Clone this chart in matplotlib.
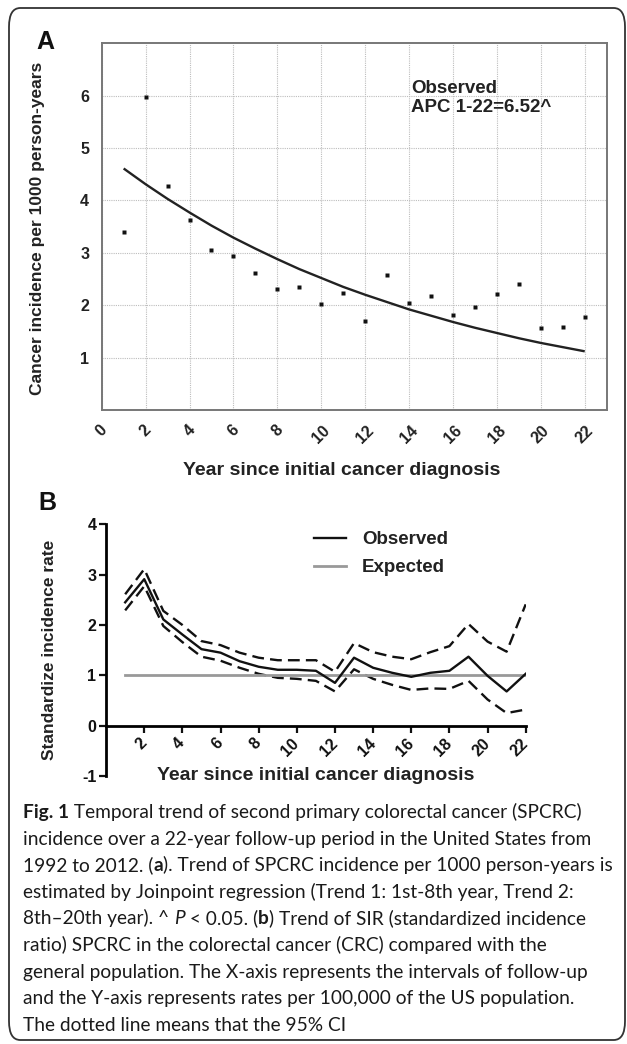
import matplotlib
matplotlib.use("Agg")
import matplotlib.pyplot as plt
from matplotlib.patches import FancyBboxPatch
from matplotlib.lines import Line2D

W, H, DPI = 627, 1044, 100

# ---------------- data ----------------
years_a = list(range(1, 23))
incidence_obs = [3.39, 5.98, 4.27, 3.62, 3.05, 2.94, 2.61, 2.31, 2.34, 2.02, 2.24,
                 1.70, 2.57, 2.04, 2.18, 1.81, 1.97, 2.21, 2.40, 1.56, 1.58, 1.77]
incidence_fit = [4.61, 4.31, 4.03, 3.77, 3.52, 3.29, 3.08, 2.88, 2.69, 2.52, 2.35,
                 2.20, 2.06, 1.92, 1.80, 1.68, 1.57, 1.47, 1.37, 1.28, 1.20, 1.12]
xticks_a = list(range(0, 23, 2))
yticks_a = [1, 2, 3, 4, 5, 6]

years_b = list(range(1, 23))
sir_obs = [2.45, 2.91, 2.11, 1.81, 1.52, 1.45, 1.28, 1.17, 1.11, 1.11, 1.09,
           0.85, 1.35, 1.15, 1.05, 0.97, 1.05, 1.09, 1.37, 0.99, 0.68, 1.03]
sir_upper = [2.61, 3.11, 2.28, 2.00, 1.68, 1.60, 1.45, 1.35, 1.30, 1.30, 1.30,
             1.07, 1.64, 1.46, 1.37, 1.32, 1.46, 1.58, 2.02, 1.67, 1.47, 2.41]
sir_lower = [2.29, 2.77, 1.98, 1.66, 1.37, 1.29, 1.15, 1.03, 0.95, 0.93, 0.89,
             0.68, 1.12, 0.93, 0.81, 0.71, 0.74, 0.73, 0.89, 0.52, 0.25, 0.32]
expected_level = [1.0] * 22
xticks_b = list(range(2, 23, 2))
yticks_b = [-1, 0, 1, 2, 3, 4]

caption_lines = [
    [("Fig. 1", "b"), (" Temporal trend of second primary colorectal cancer (SPCRC)", "n")],
    [("incidence over a 22-year follow-up period in the United States from", "n")],
    [("1992 to 2012. (", "n"), ("a", "b"), ("). Trend of SPCRC incidence per 1000 person-years is", "n")],
    [("estimated by Joinpoint regression (Trend 1: 1st-8th year, Trend 2:", "n")],
    [("8th\u201320th year). ^ ", "n"), ("P", "i"), (" < 0.05. (", "n"), ("b", "b"),
     (") Trend of SIR (standardized incidence", "n")],
    [("ratio) SPCRC in the colorectal cancer (CRC) compared with the", "n")],
    [("general population. The X-axis represents the intervals of follow-up", "n")],
    [("and the Y-axis represents rates per 100,000 of the US population.", "n")],
    [("The dotted line means that the 95% CI", "n")],
]

# ---------------- figure ----------------
SANS = ["Liberation Sans", "DejaVu Sans"]
plt.rcParams["font.family"] = SANS

fig = plt.figure(figsize=(W / DPI, H / DPI), dpi=DPI)


def fx(px):
    return px / W


def fy(py):
    return 1 - py / H


# outer rounded frame
frame = FancyBboxPatch((fx(9), fy(1040)), fx(625) - fx(9), fy(8) - fy(1040),
                       boxstyle="round,pad=0,rounding_size=0.018",
                       transform=fig.transFigure, fill=False,
                       edgecolor="#333333", linewidth=1.3, clip_on=False)
fig.patches.append(frame)

# ---------------- panel A ----------------
A_L, A_R, A_T, A_B = 101.7, 606.7, 43.3, 410
axA = fig.add_axes([fx(A_L), fy(A_B), fx(A_R) - fx(A_L), fy(A_T) - fy(A_B)])
axA.set_xlim(0, 23)
axA.set_ylim(0, 7)
axA.plot(years_a, incidence_fit, color="#222222", lw=1.7, solid_capstyle="butt")
axA.plot(years_a, incidence_obs, ls="none", marker="s", ms=2.6, color="#111111", mec="none")
axA.set_xticks(xticks_a)
axA.set_yticks(yticks_a)
axA.set_xticklabels([str(v) for v in xticks_a], rotation=45, ha="center",
                    fontsize=11.5, fontweight="bold", color="#222222")
axA.set_yticklabels([str(v) for v in yticks_a], fontsize=11.5, fontweight="bold",
                    color="#222222")
axA.tick_params(axis="both", length=0)
axA.tick_params(axis="y", pad=9)
axA.tick_params(axis="x", pad=9)
axA.grid(True, color="#bdbdbd", ls=(0, (1, 1)), lw=0.8)
axA.set_axisbelow(True)
for s in axA.spines.values():
    s.set_color("#777777")
    s.set_linewidth(1.4)
axA.set_ylabel("Cancer incidence per 1000 person-years", fontsize=12.5,
               fontweight="bold", color="#222222")
axA.yaxis.set_label_coords((45 - A_L) / (A_R - A_L), 0.495)
axA.text(14.1, 6.05, "Observed", fontsize=13.5, fontweight="bold", color="#222222",
         va="baseline", ha="left")
axA.text(14.1, 5.68, "APC 1-22=6.52^", fontsize=13.5, fontweight="bold", color="#222222",
         va="baseline", ha="left")

fig.text(fx(45), fy(42), "A", fontsize=18, fontweight="bold", ha="center", va="center",
         color="#111111")
fig.text(fx(342), fy(471), "Year since initial cancer diagnosis", fontsize=14,
         fontweight="bold", ha="center", va="center", color="#222222")

# ---------------- panel B ----------------
B_L, B_R, B_T, B_B = 106.1, 525.7, 524.3, 776
axB = fig.add_axes([fx(B_L), fy(B_B), fx(B_R) - fx(B_L), fy(B_T) - fy(B_B)])
axB.set_xlim(0, 22)
axB.set_ylim(-1, 4)
axB.plot(years_b, sir_upper, color="#111111", lw=1.7, dashes=(5, 2.6))
axB.plot(years_b, sir_lower, color="#111111", lw=1.7, dashes=(5, 2.6))
axB.plot(years_b, expected_level, color="#999999", lw=2.0, zorder=3)
axB.plot(years_b, sir_obs, color="#111111", lw=1.7, zorder=4)
for side in ("top", "right"):
    axB.spines[side].set_visible(False)
axB.spines["bottom"].set_position(("data", 0))
axB.spines["left"].set_linewidth(2.0)
axB.spines["bottom"].set_linewidth(2.0)
axB.set_xticks(xticks_b)
axB.set_yticks(yticks_b)
axB.set_xticklabels([str(v) for v in xticks_b], rotation=45, ha="right", va="center",
                    rotation_mode="anchor", fontsize=11.5, fontweight="bold", color="#111111")
axB.set_yticklabels([str(v) for v in yticks_b], fontsize=11.5, fontweight="bold",
                    color="#111111")
axB.tick_params(axis="both", direction="out", length=5, width=1.6, color="#111111")
axB.tick_params(axis="x", pad=6)
axB.tick_params(axis="y", pad=2)
axB.set_ylabel("Standardize incidence rate", fontsize=12.5, fontweight="bold",
               color="#222222")
axB.yaxis.set_label_coords((57 - B_L) / (B_R - B_L), 0.5)
handles = [Line2D([], [], color="#111111", lw=1.7),
           Line2D([], [], color="#999999", lw=2.0)]
axB.legend(handles, ["Observed", "Expected"], loc="upper left",
           bbox_to_anchor=(fx(314), fy(531)), bbox_transform=fig.transFigure,
           frameon=False, borderpad=0, borderaxespad=0, handlelength=1.7,
           handletextpad=0.85, labelspacing=0.6,
           prop={"family": SANS, "weight": "bold", "size": 13.5})
for t in axB.get_legend().get_texts():
    t.set_color("#222222")

fig.text(fx(316), fy(776), "Year since initial cancer diagnosis", fontsize=14,
         fontweight="bold", ha="center", va="center", color="#222222")
fig.text(fx(47), fy(503), "B", fontsize=18, fontweight="bold", ha="center", va="center",
         color="#111111")

# ---------------- caption ----------------
CAP_FONT = ["Lato", "DejaVu Sans"]
renderer = fig.canvas.get_renderer()


def piece_width(txt, style, size):
    kw = dict(fontsize=size, family=CAP_FONT)
    if style == "b":
        kw["fontweight"] = "bold"
    if style == "i":
        kw["fontstyle"] = "italic"
    t1 = fig.text(0, 0, txt + "|", **kw)
    t2 = fig.text(0, 0, "|", **kw)
    w = t1.get_window_extent(renderer).width - t2.get_window_extent(renderer).width
    t1.remove()
    t2.remove()
    return w, kw


# choose caption size so that the widest line spans the text block width
ref_size = 12.0
ref_w = sum(piece_width(t, s, ref_size)[0] for t, s in caption_lines[2])
CAP_SIZE = ref_size * 590.0 / ref_w

y0, dy, x0 = 818, 26.6, 23
for i, line in enumerate(caption_lines):
    x = x0
    for txt, style in line:
        w, kw = piece_width(txt, style, CAP_SIZE)
        fig.text(fx(x), fy(y0 + i * dy), txt, va="baseline", ha="left",
                 color="#1a1a1a", **kw)
        x += w

fig.savefig("out.png", dpi=DPI)
